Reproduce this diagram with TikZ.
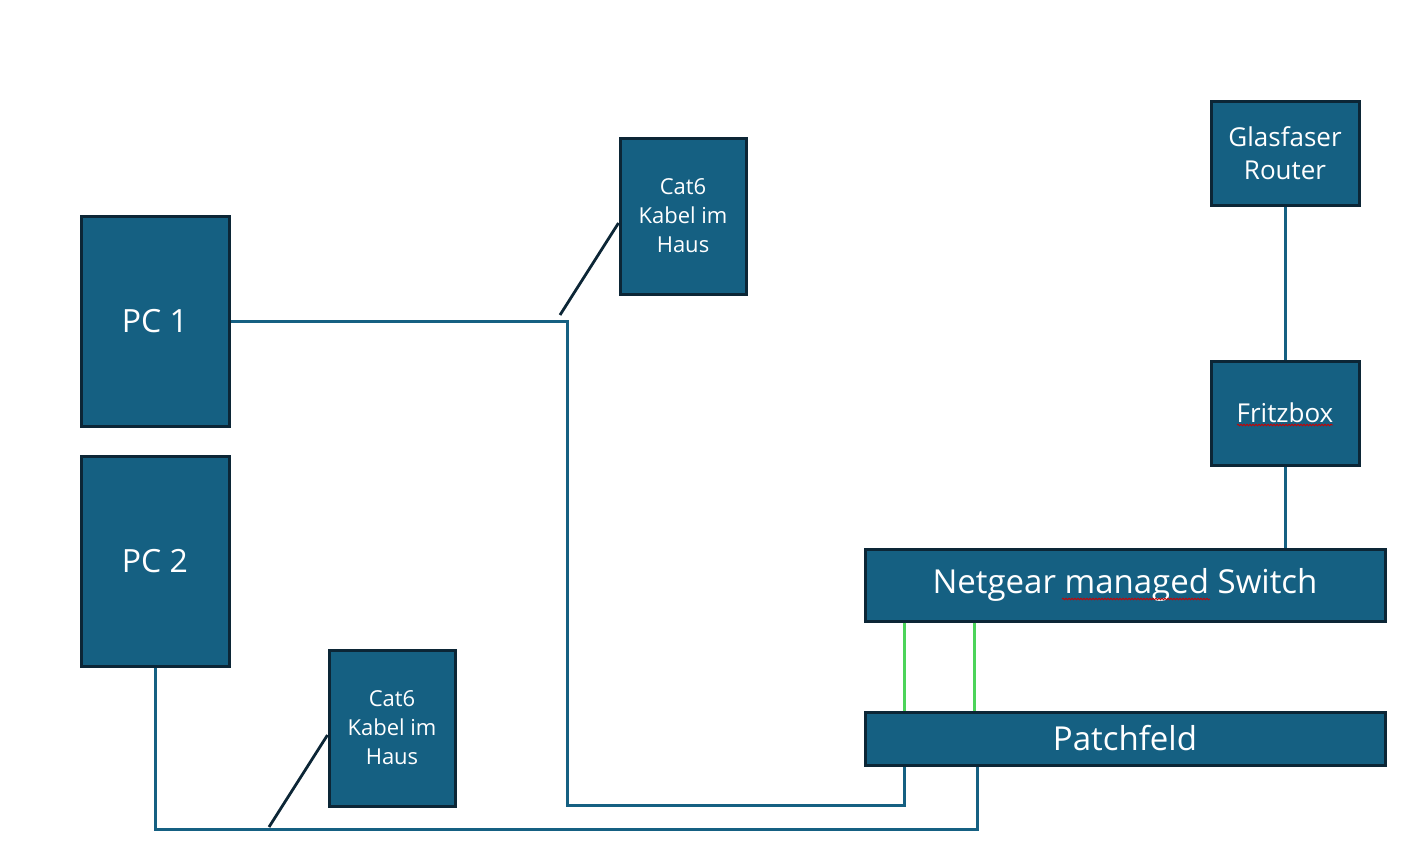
\documentclass[tikz,border=0pt]{standalone}
\usepackage{fontspec}
\setmainfont{Open Sans}
\usetikzlibrary{decorations.pathmorphing}
\definecolor{boxfill}{HTML}{156082}
\definecolor{boxedge}{HTML}{0C2636}
\definecolor{wire}{HTML}{156082}
\definecolor{patch}{HTML}{4CD45A}
\tikzset{
  x=1pt,y=-1pt,
  box/.style={draw=boxedge,line width=3pt,fill=boxfill,text=white,inner sep=0pt,align=center},
  wireline/.style={draw=wire,line width=3pt},
  greenline/.style={draw=patch,line width=3pt},
  callout/.style={draw=boxedge,line width=2.8pt},
  squiggle/.style={draw=red!80!black,line width=0.8pt,decorate,decoration={snake,amplitude=0.8pt,segment length=3pt}},
}
\begin{document}
\begin{tikzpicture}
\useasboundingbox (0,0) rectangle (1422,851);
% boxes
\node[box,minimum width=148pt,minimum height=210pt,font=\fontsize{32}{36}\selectfont] (pc1) at (155,321) {PC 1};
\node[box,minimum width=148pt,minimum height=210pt,font=\fontsize{32}{36}\selectfont] (pc2) at (155,561) {PC 2};
\node[box,minimum width=126pt,minimum height=156pt,font=\fontsize{22}{29}\selectfont] (cat1) at (683,216) {Cat6\\Kabel im\\Haus};
\node[box,minimum width=126pt,minimum height=156pt,font=\fontsize{22}{29}\selectfont] (cat2) at (392,728) {Cat6\\Kabel im\\Haus};
\node[box,minimum width=148pt,minimum height=104pt,font=\fontsize{26}{33}\selectfont] (glas) at (1285,153) {Glasfaser\\Router};
\node[box,minimum width=148pt,minimum height=104pt,font=\fontsize{26}{30}\selectfont] (fritz) at (1285,413) {Fritzbox};
\node[box,minimum width=520pt,minimum height=72pt,font=\fontsize{33}{38}\selectfont] (sw) at (1125,585) {Netgear managed Switch};
\node[box,minimum width=520pt,minimum height=53pt,font=\fontsize{33}{38}\selectfont] (pf) at (1125,738.5) {Patchfeld};
% coordinates
\coordinate (c1) at (567,805);
\coordinate (c2) at (155,829);
\coordinate (k1) at (560,315);
\coordinate (k2) at (269,827);
% wires
\draw[wireline] (pc1.east) -- (567,321) -- (c1) -| ([xshift=-221pt]pf.south);
\draw[wireline] (pc2.south) -- (c2) -| ([xshift=-148pt]pf.south);
\draw[wireline] (glas.south) -- (fritz.north);
\draw[wireline] (fritz.south) -- (fritz.south |- sw.north);
\draw[greenline] ([xshift=-221pt]sw.south) -- ([xshift=-221pt]pf.north);
\draw[greenline] ([xshift=-151pt]sw.south) -- ([xshift=-151pt]pf.north);
% callouts
\draw[callout] (k1) -- ([yshift=-7pt]cat1.west);
\draw[callout] (k2) -- ([yshift=-7pt]cat2.west);
% spell-check squiggles
\draw[squiggle] (1237,425) -- (1333,425);
\draw[squiggle] (1062,599) -- (1210,599);
\end{tikzpicture}
\end{document}
